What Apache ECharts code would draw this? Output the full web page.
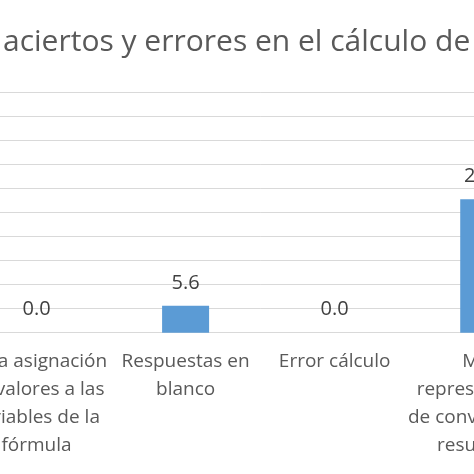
<!DOCTYPE html>
<html>
<head>
<meta charset="utf-8">
<script src="https://cdn.jsdelivr.net/npm/echarts@6/dist/echarts.min.js"></script>
<style>
html,body{margin:0;padding:0;background:#fff;overflow:hidden;width:474px;height:474px;}
#chart{position:absolute;left:-38px;top:0;width:600px;height:474px;}
</style>
</head>
<body>
<div id="chart"></div>
<script>
var titleText = 'aciertos y errores en el cálculo de';
var categories = [
  'En la asignación\nde valores a las\nvariables de la\nfórmula',
  'Respuestas en\nblanco',
  'Error cálculo',
  'Mala\nrepresentación\nde conversión de\nresultados'
];
var values = [0.0, 5.6, 0.0, 27.8];
var yMin = 0, yMax = 50, yInterval = 5;

var chart = echarts.init(document.getElementById('chart'), null, {renderer: 'canvas'});
chart.setOption({
  animation: false,
  backgroundColor: '#ffffff',
  title: {
    text: titleText,
    left: 36,
    top: 22,
    textStyle: {fontFamily: 'Open Sans', fontSize: 30, fontWeight: 'normal', color: '#595959'}
  },
  grid: {left: 0, right: 0, top: 92.7, bottom: 141.3, containLabel: false},
  xAxis: {
    type: 'category',
    data: categories,
    axisLine: {show: true, lineStyle: {color: '#d9d9d9', width: 1}},
    axisTick: {show: false},
    axisLabel: {interval: 0, margin: 15, fontFamily: 'Open Sans', fontSize: 19, lineHeight: 28, color: '#595959'}
  },
  yAxis: {
    type: 'value',
    min: yMin, max: yMax, interval: yInterval,
    axisLabel: {show: false},
    axisLine: {show: false},
    axisTick: {show: false},
    splitLine: {lineStyle: {color: '#d9d9d9', width: 1}}
  },
  series: [{
    type: 'bar',
    data: values,
    barWidth: 47,
    itemStyle: {color: '#5b9bd5'},
    label: {
      show: true, position: 'top', distance: 13,
      formatter: function(p){ return p.value.toFixed(1); },
      fontFamily: 'Open Sans', fontSize: 20, color: '#404040'
    }
  }]
});
</script>
</body>
</html>
